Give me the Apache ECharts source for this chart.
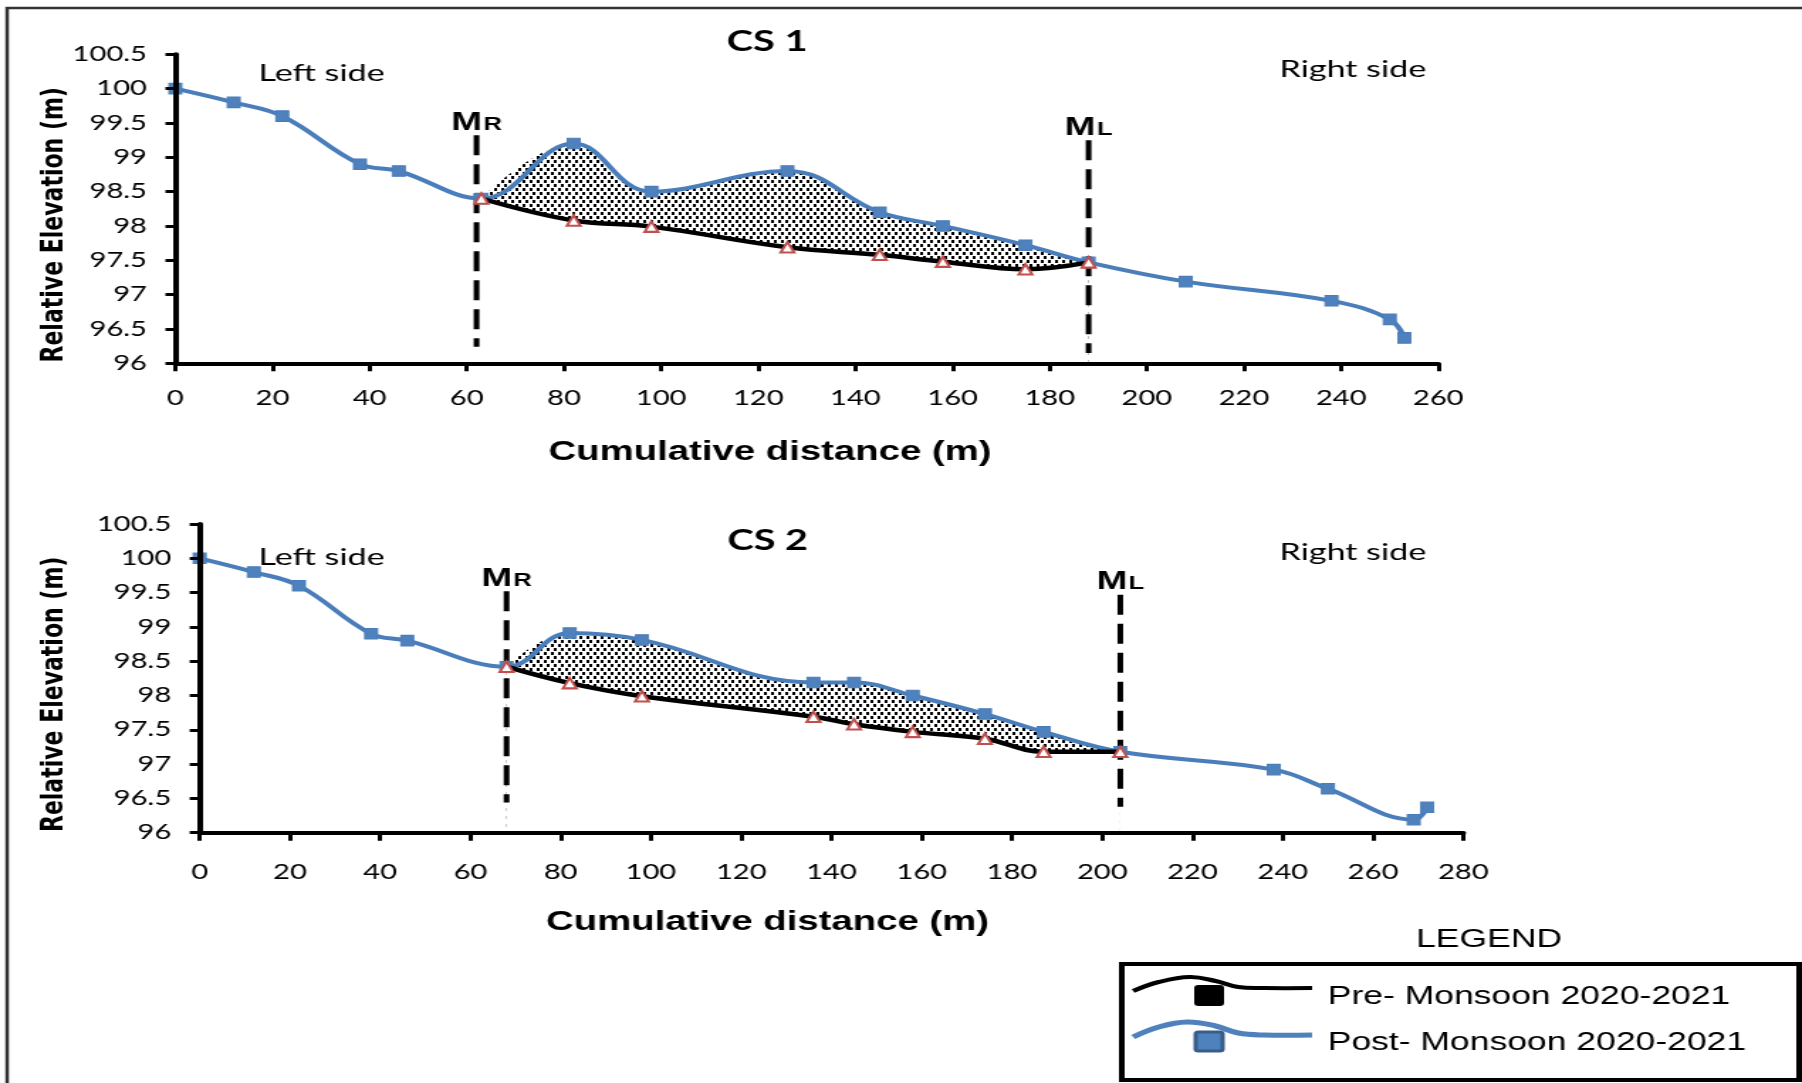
<!DOCTYPE html>
<html>
<head>
<meta charset="utf-8">
<script src="https://cdn.jsdelivr.net/npm/echarts@6/dist/echarts.min.js"></script>
<style>
  html, body { margin: 0; padding: 0; background: #fff; overflow: hidden; }
  #wrap { width: 1802px; height: 1083px; overflow: hidden; position: relative; background: #fff; }
  #c { width: 1269px; height: 1083px; transform: scaleX(1.42); transform-origin: 0 0; }
</style>
</head>
<body>
<div id="wrap"><div id="c"></div></div>
<script>
// ---------------- DATA ----------------
const cs1PostX = [0, 12, 22, 38, 46, 63, 82, 98, 126, 145, 158, 175, 188, 208, 238, 250, 253];
const cs1PostY = [100, 99.8, 99.6, 98.9, 98.8, 98.4, 99.2, 98.5, 98.8, 98.2, 98.0, 97.72, 97.47, 97.19, 96.91, 96.64, 96.37];
const cs1PreX  = [63, 82, 98, 126, 145, 158, 175, 188];
const cs1PreY  = [98.4, 98.08, 97.99, 97.69, 97.58, 97.48, 97.37, 97.47];
const cs1MR = [62, 99.32, 96.24];   // x, top, bottom
const cs1ML = [188, 99.25, 96.15];

const cs2PostX = [0, 12, 22, 38, 46, 68, 82, 98, 136, 145, 158, 174, 187, 204, 238, 250, 269, 272];
const cs2PostY = [100, 99.8, 99.6, 98.9, 98.8, 98.42, 98.91, 98.81, 98.19, 98.19, 98.0, 97.73, 97.47, 97.18, 96.92, 96.64, 96.19, 96.37];
const cs2PreX  = [68, 82, 98, 136, 145, 158, 174, 187, 204];
const cs2PreY  = [98.42, 98.18, 97.99, 97.69, 97.58, 97.47, 97.37, 97.18, 97.18];
const cs2MR = [68, 99.52, 96.44];
const cs2ML = [204, 99.47, 96.38];

const xMax1 = 260, xMax2 = 280, xInterval = 20;
const yMin = 96, yMax = 100.5, yInterval = 0.5;
const titles = ['CS 1', 'CS 2'];
const preName = 'Pre- Monsoon 2020-2021';
const postName = 'Post- Monsoon 2020-2021';

// ---------------- STYLE ----------------
const BLUE = '#4f81bd';
const BLUE_LINE = '#4a7ebb';
const RED = '#c0504d';
const SMOOTH = 0.4;

const pc = document.createElement('canvas');
pc.width = 10; pc.height = 8;
const pctx = pc.getContext('2d');
pctx.fillStyle = '#fff'; pctx.fillRect(0, 0, 10, 8);
pctx.fillStyle = '#000';
pctx.fillRect(0, 0, 2, 3);
pctx.fillRect(5, 0, 2, 3);
pctx.fillRect(3, 4, 2, 3);
pctx.fillRect(8, 4, 2, 3);
const pattern = { image: pc, repeat: 'repeat' };

function zip(xs, ys) { return xs.map((x, i) => [x, ys[i]]); }

const grids = [
  { left: 123.5, top: 54.3, width: 889.4, height: 309 },
  { left: 140.6, top: 524, width: 889.9, height: 308.7 }
];

function xAxisFor(i, max, margin, shift) {
  return {
    type: 'value', gridIndex: i, min: 0, max: max, interval: xInterval, z: 10,
    splitLine: { show: false },
    axisLine: { onZero: false, lineStyle: { color: '#000', width: 4 } },
    axisTick: { length: 8, lineStyle: { color: '#000', width: 3 } },
    axisLabel: { margin: margin, color: '#000', fontFamily: 'Lato', fontSize: 20.5 },
    name: 'Cumulative distance (m)', nameLocation: 'middle', nameGap: 76,
    nameTextStyle: { color: '#000', fontFamily: 'Liberation Sans', fontWeight: 'bold', fontSize: 27, padding: [0, shift, 0, 0] }
  };
}
function yAxisFor(i, gap) {
  return {
    type: 'value', gridIndex: i, min: yMin, max: yMax, interval: yInterval, z: 10,
    splitLine: { show: false },
    axisLine: { show: true, onZero: false, lineStyle: { color: '#000', width: 4 } },
    axisTick: { show: true, length: 7, lineStyle: { color: '#000', width: 3 } },
    axisLabel: { margin: 20, color: '#000', fontFamily: 'Lato', fontSize: 20.5 },
    name: 'Relative Elevation (m)', nameLocation: 'middle', nameGap: gap, nameMoveOverlap: false,
    nameTextStyle: { color: '#000', fontFamily: 'DejaVu Sans', fontWeight: 'bold', fontSize: 22, padding: [0, 32, 0, 0] }
  };
}

function dashSeries(i, m, sub) {
  return {
    type: 'line', xAxisIndex: i, yAxisIndex: i, z: 6, silent: true,
    data: [
      { value: [m[0], m[1]], label: { show: true } },
      { value: [m[0], m[2]] }
    ],
    symbol: 'circle', symbolSize: 1, showSymbol: true,
    itemStyle: { color: 'rgba(0,0,0,0)' },
    lineStyle: { color: '#000', width: 4, type: [20, 9] },
    label: {
      show: false, position: 'top', distance: 1,
      formatter: '{m|M}{s|' + sub + '}',
      rich: {
        m: { fontFamily: 'Liberation Sans', fontWeight: 'bold', fontSize: 26, color: '#000', lineHeight: 24, verticalAlign: 'top' },
        s: { fontFamily: 'Liberation Sans', fontWeight: 'bold', fontSize: 18, color: '#000', lineHeight: 18, padding: [16, 0, 0, 1], verticalAlign: 'bottom' }
      }
    }
  };
}

function seriesFor(i, postX, postY, preX, preY, mr, ml) {
  const post = zip(postX, postY);
  const pre = zip(preX, preY);
  const lo = preX[0], hi = preX[preX.length - 1];
  const slice = post.filter(p => p[0] >= lo && p[0] <= hi);
  return [
    { // dotted fill between curves
      type: 'line', xAxisIndex: i, yAxisIndex: i, z: 1, silent: true,
      data: slice, smooth: SMOOTH, symbol: 'none',
      lineStyle: { width: 0, opacity: 0 },
      areaStyle: { color: pattern, opacity: 1, origin: 'start' }
    },
    { // white cover below pre-monsoon
      type: 'line', xAxisIndex: i, yAxisIndex: i, z: 2, silent: true,
      data: pre, smooth: SMOOTH, symbol: 'none',
      lineStyle: { width: 2, color: '#fff' },
      areaStyle: { color: '#fff', opacity: 1, origin: 'start' }
    },
    dashSeries(i, mr, 'R'),
    dashSeries(i, ml, 'L'),
    {
      name: postName, type: 'line', xAxisIndex: i, yAxisIndex: i, z: 7,
      data: post, smooth: SMOOTH,
      symbol: 'rect', symbolSize: [9, 10.5], showAllSymbol: true,
      lineStyle: { color: BLUE_LINE, width: 4 },
      itemStyle: { color: BLUE, borderColor: BLUE_LINE, borderWidth: 1 }
    },
    {
      name: preName, type: 'line', xAxisIndex: i, yAxisIndex: i, z: 8,
      data: pre, smooth: SMOOTH,
      symbol: 'triangle', symbolSize: [9.5, 10.5], showAllSymbol: true,
      lineStyle: { color: '#000', width: 4.5 },
      itemStyle: { color: '#fff', borderColor: RED, borderWidth: 2 }
    }
  ];
}

const textStyleSide = { fontFamily: 'Lato', fontSize: 24, fill: '#000', textAlign: 'center', textVerticalAlign: 'middle' };

const option = {
  backgroundColor: '#fff',
  animation: false,
  title: [
    { text: titles[0], left: 535.2, top: 37, textAlign: 'center', textVerticalAlign: 'middle',
      textStyle: { fontFamily: 'Lato', fontWeight: 'bold', fontSize: 28, color: '#000' } },
    { text: titles[1], left: 535.6, top: 536, textAlign: 'center', textVerticalAlign: 'middle',
      textStyle: { fontFamily: 'Lato', fontWeight: 'bold', fontSize: 28, color: '#000' } }
  ],
  grid: grids,
  xAxis: [xAxisFor(0, xMax1, 25, 52), xAxisFor(1, xMax2, 29, 90)],
  yAxis: [yAxisFor(0, 74), yAxisFor(1, 91)],
  series: [].concat(
    seriesFor(0, cs1PostX, cs1PostY, cs1PreX, cs1PreY, cs1MR, cs1ML),
    seriesFor(1, cs2PostX, cs2PostY, cs2PreX, cs2PreY, cs2MR, cs2ML)
  ),
  graphic: [
    // outer figure frame
    { type: 'rect', z: 0, silent: true, shape: { x: 5, y: 8, width: 2000, height: 2000 },
      style: { fill: 'none', stroke: '#333', lineWidth: 2.5 } },
    { type: 'text', x: 226.4, y: 73.3, style: Object.assign({ text: 'Left side' }, textStyleSide) },
    { type: 'text', x: 952.7, y: 69, style: Object.assign({ text: 'Right side' }, textStyleSide) },
    { type: 'text', x: 226.4, y: 557.5, style: Object.assign({ text: 'Left side' }, textStyleSide) },
    { type: 'text', x: 952.7, y: 552, style: Object.assign({ text: 'Right side' }, textStyleSide) },
    // legend
    { type: 'text', x: 1048.6, y: 940, style: { text: 'LEGEND', fontFamily: 'Liberation Sans', fontSize: 25, fill: '#000', textAlign: 'center', textVerticalAlign: 'middle' } },
    { type: 'rect', z: 20, shape: { x: 790, y: 964, width: 477, height: 116 },
      style: { fill: '#fff', stroke: '#000', lineWidth: 4 } },
    { type: 'polyline', z: 21, shape: { points: [[798, 991], [816, 982], [838, 977], [856, 981], [872, 987], [890, 988], [924, 988]], smooth: 0.4 },
      style: { stroke: '#000', lineWidth: 4, fill: 'none' } },
    { type: 'rect', z: 22, shape: { x: 841, y: 985, width: 21, height: 21, r: 3 }, style: { fill: '#000' } },
    { type: 'polyline', z: 21, shape: { points: [[798, 1037], [816, 1027], [836, 1022], [856, 1026], [872, 1033], [890, 1035], [924, 1035]], smooth: 0.4 },
      style: { stroke: BLUE, lineWidth: 5, fill: 'none' } },
    { type: 'rect', z: 22, shape: { x: 842, y: 1032, width: 19, height: 19, r: 2 }, style: { fill: BLUE, stroke: '#385d8a', lineWidth: 3 } },
    { type: 'text', z: 22, x: 935, y: 997, style: { text: preName, fontFamily: 'Liberation Sans', fontSize: 25, fill: '#000', textVerticalAlign: 'middle' } },
    { type: 'text', z: 22, x: 935, y: 1043, style: { text: postName, fontFamily: 'Liberation Sans', fontSize: 25, fill: '#000', textVerticalAlign: 'middle' } }
  ]
};

const chart = echarts.init(document.getElementById('c'), null, { renderer: 'canvas', width: 1269, height: 1083 });
chart.setOption(option);
</script>
</body>
</html>
